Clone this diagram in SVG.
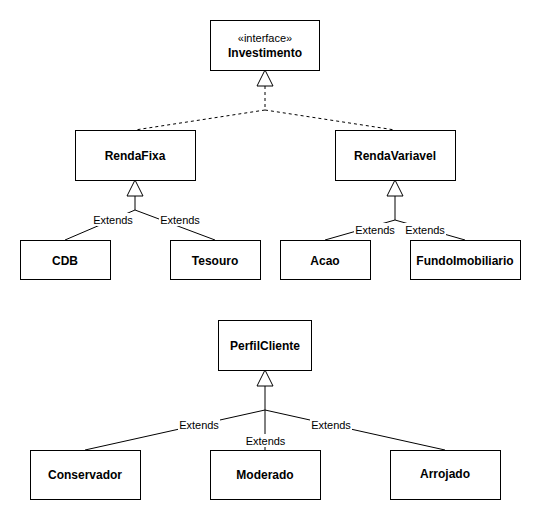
<svg xmlns="http://www.w3.org/2000/svg" width="541" height="521" viewBox="0 0 541 521">
<style>
.box{fill:#fff;stroke:#000;stroke-width:1}
.name{font-family:"Liberation Sans",Arial,sans-serif;font-size:12px;font-weight:bold;text-anchor:middle;fill:#000}
.st{font-family:"Liberation Sans",Arial,sans-serif;font-size:11px;text-anchor:middle;fill:#000}
.ln{fill:none;stroke:#000;stroke-width:1}
.dash{fill:none;stroke:#000;stroke-width:1;stroke-dasharray:3,3}
.tri{fill:#fff;stroke:#000;stroke-width:1}
.lbl{font-family:"Liberation Sans",Arial,sans-serif;font-size:11px;text-anchor:middle;fill:#000}
.lblbg{fill:#fff}
</style>
<rect width="541" height="521" fill="#fff"/>
<g id="connectors">
  <polyline class="dash" points="265,86 265,110 135,130"/>
  <polyline class="dash" points="265,110 395,130"/>
  <polygon class="tri" points="265,70 257,86 273,86"/>

  <polyline class="ln" points="65,240 135,210 135,196"/>
  <polyline class="ln" points="215,240 135,210"/>
  <polygon class="tri" points="135,180 127,196 143,196"/>
  <rect class="lblbg" x="92" y="213" width="42" height="13"/>
  <text class="lbl" x="113" y="224">Extends</text>
  <rect class="lblbg" x="159" y="213" width="42" height="13"/>
  <text class="lbl" x="180" y="224">Extends</text>

  <polyline class="ln" points="325,240 395,220 395,196"/>
  <polyline class="ln" points="465,240 395,220"/>
  <polygon class="tri" points="395,180 387,196 403,196"/>
  <rect class="lblbg" x="354" y="223" width="42" height="13"/>
  <text class="lbl" x="375" y="234">Extends</text>
  <rect class="lblbg" x="404" y="223" width="42" height="13"/>
  <text class="lbl" x="425" y="234">Extends</text>

  <polyline class="ln" points="85,450 265,410 265,386"/>
  <polyline class="ln" points="445,450 265,410"/>
  <polyline class="ln" points="265,410 265,450"/>
  <polygon class="tri" points="265,370 257,386 273,386"/>
  <rect class="lblbg" x="178" y="418" width="42" height="13"/>
  <text class="lbl" x="199" y="429">Extends</text>
  <rect class="lblbg" x="244" y="434" width="43" height="13"/>
  <text class="lbl" x="265.5" y="445">Extends</text>
  <rect class="lblbg" x="310" y="418" width="42" height="13"/>
  <text class="lbl" x="331" y="429">Extends</text>
</g>
<g id="Investimento">
  <rect class="box" x="210.5" y="20.5" width="109" height="50"/>
  <text class="st" x="265" y="42">«interface»</text>
  <text class="name" x="265" y="57">Investimento</text>
</g>
<g id="RendaFixa">
  <rect class="box" x="75.5" y="130.5" width="120" height="50"/>
  <text class="name" x="135" y="160">RendaFixa</text>
</g>
<g id="RendaVariavel">
  <rect class="box" x="335.5" y="130.5" width="120" height="50"/>
  <text class="name" x="395" y="160">RendaVariavel</text>
</g>
<g id="CDB">
  <rect class="box" x="20.5" y="240.5" width="90" height="39"/>
  <text class="name" x="65" y="265">CDB</text>
</g>
<g id="Tesouro">
  <rect class="box" x="170.5" y="240.5" width="90" height="39"/>
  <text class="name" x="215" y="265">Tesouro</text>
</g>
<g id="Acao">
  <rect class="box" x="280.5" y="240.5" width="90" height="39"/>
  <text class="name" x="325" y="265">Acao</text>
</g>
<g id="FundoImobiliario">
  <rect class="box" x="410.5" y="240.5" width="110" height="39"/>
  <text class="name" x="465" y="265">FundoImobiliario</text>
</g>
<g id="PerfilCliente">
  <rect class="box" x="218.5" y="320.5" width="93" height="50"/>
  <text class="name" x="265" y="350">PerfilCliente</text>
</g>
<g id="Conservador">
  <rect class="box" x="30.5" y="450.5" width="110" height="49"/>
  <text class="name" x="85" y="479">Conservador</text>
</g>
<g id="Moderado">
  <rect class="box" x="210.5" y="450.5" width="110" height="49"/>
  <text class="name" x="265" y="479">Moderado</text>
</g>
<g id="Arrojado">
  <rect class="box" x="390.5" y="450.5" width="110" height="49"/>
  <text class="name" x="445" y="478">Arrojado</text>
</g>
</svg>
